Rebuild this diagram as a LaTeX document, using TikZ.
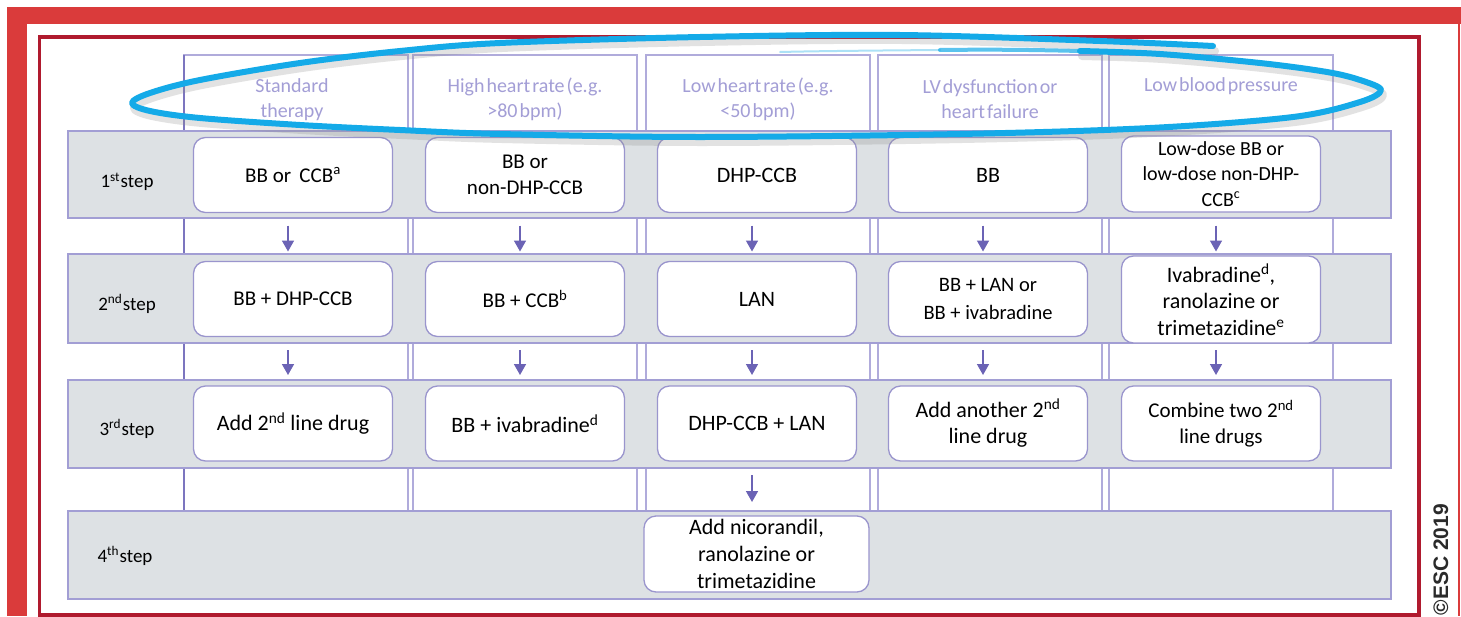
\documentclass[tikz,border=0pt]{standalone}
\usepackage{fontspec}
\setmainfont{Carlito}
\newfontfamily\headfont{Carlito}[WordSpace=0.45]
\newfontfamily\escfont{Liberation Sans}
\usetikzlibrary{arrows.meta,calc}

\definecolor{framered}{HTML}{DA3B3B}
\definecolor{crimson}{HTML}{B01A2E}
\definecolor{bandfill}{HTML}{DDE1E4}
\definecolor{bandline}{HTML}{A29ED4}
\definecolor{boxline}{HTML}{9A95CD}
\definecolor{colline}{HTML}{B0ABDB}
\definecolor{coldark}{HTML}{7C75BF}
\definecolor{headtext}{HTML}{A39ED6}
\definecolor{arrowcol}{HTML}{6B63B5}
\definecolor{marker}{HTML}{14AAE8}
\definecolor{esctext}{HTML}{2A2A2A}

\begin{document}
\begin{tikzpicture}[x=1pt,y=-1pt,
  every node/.style={inner sep=0pt, outer sep=0pt},
  colbox/.style={draw=colline, line width=1.2pt, minimum width=224pt, minimum height=456pt},
  band/.style={draw=bandline, fill=bandfill, line width=1.3pt, minimum width=1323pt},
  drug/.style={draw=boxline, fill=white, line width=1.3pt, rounded corners=12pt,
    minimum width=199pt, minimum height=75pt, align=center,
    font=\fontsize{21}{26}\selectfont},
  drugwide/.style={drug, font=\fontsize{22}{26.5}\selectfont},
  steplabel/.style={font=\fontsize{19}{23}\selectfont},
  head/.style={text=headtext, align=center, font=\headfont\fontsize{20}{25}\selectfont},
  flow/.style={draw=arrowcol, line width=1.6pt, -{Triangle[width=12pt,length=11pt]}},
  pen/.style={draw=marker, line width=6pt, line cap=round, line join=round},
  penshadow/.style={draw=black!45, opacity=0.25, line width=8pt, line cap=round, line join=round},
]

\useasboundingbox (0,0) rectangle (1461,616);
\fill[white] (0,0) rectangle (1461,616);

% outer red frame and inner crimson frame
\fill[framered] (7,7) rectangle (1461,24);
\fill[framered] (7,7) rectangle (27,616);
\draw[framered, line width=1.5pt] (1459,24) -- (1459,616);
\draw[crimson, line width=3.5pt] (39.5,37) rectangle (1419,615);

% patient-profile columns
\node[colbox] (col1) at (296,283) {};
\draw[coldark, line width=1.2pt] (col1.north west) -- (col1.south west);
\node[colbox] (col2) at (525,283) {};
\node[colbox] (col3) at (758,283) {};
\node[colbox] (col4) at (990,283) {};
\node[colbox] (col5) at (1221,283) {};

% step bands
\node[band, minimum height=87pt] (r1) at (729.5,174.5) {};
\node[band, minimum height=89pt] (r2) at (729.5,298.5) {};
\node[band, minimum height=88pt] (r3) at (729.5,424) {};
\node[band, minimum height=88pt] (r4) at (729.5,555) {};

% column headings
\node[head] (h1) at (292,99.5) {Standard\\therapy};
\node[head] (h2) at (525,99.5) {High heart rate (e.g.\\>80 bpm)};
\node[head] (h3) at (758,99.5) {Low heart rate (e.g.\\<50 bpm)};
\node[head] (h4) at (990,99.5) {LV dysfunction or\\heart failure};
\node[head] (h5) at (1221,86) {Low blood pressure};

% step labels
\node[steplabel] (s1) at (127,182) {1\textsuperscript{st}\kern0.5pt step};
\node[steplabel] (s2) at (127,304) {2\textsuperscript{nd}\kern0.5pt step};
\node[steplabel] (s3) at (127,429) {3\textsuperscript{rd}\kern0.5pt step};
\node[steplabel] (s4) at (125,556) {4\textsuperscript{th}\kern0.5pt step};

% 1st step
\node[drug] (b11) at (293,175) {BB or\, CCB\textsuperscript{a}};
\node[drug] (b12) at (525,175) {BB or\\non-DHP-CCB};
\node[drugwide] (b13) at (757,175) {DHP-CCB};
\node[drugwide] (b14) at (988,175) {BB};
\node[drug, minimum height=76pt, font=\fontsize{20}{25.5}\selectfont] (b15) at (1221,174)
  {Low-dose BB or\\low-dose non-DHP-\\CCB\textsuperscript{c}};

% 2nd step
\node[drug] (b21) at (293,299) {BB + DHP-CCB};
\node[drug] (b22) at (525,299) {BB + CCB\textsuperscript{b}};
\node[drugwide] (b23) at (757,299) {LAN};
\node[drug, font=\fontsize{20.5}{28}\selectfont] (b24) at (988,299) {BB + LAN or\\BB + ivabradine};
\node[drugwide, minimum height=87pt] (b25) at (1221,299.5)
  {Ivabradine\textsuperscript{d},\\ranolazine or\\trimetazidine\textsuperscript{e}};

% 3rd step
\node[drugwide] (b31) at (293,423.5) {Add 2\textsuperscript{nd} line drug};
\node[drugwide] (b32) at (525,423.5) {BB + ivabradine\textsuperscript{d}};
\node[drugwide] (b33) at (757,423.5) {DHP-CCB + LAN};
\node[drugwide] (b34) at (988,423.5) {Add another 2\textsuperscript{nd}\\line drug};
\node[drug] (b35) at (1221,423.5) {Combine two 2\textsuperscript{nd}\\line drugs};

% 4th step
\node[drugwide, minimum width=225pt, minimum height=76pt, font=\fontsize{22}{27}\selectfont] (b43) at (756.5,554)
  {Add nicorandil,\\ranolazine or\\trimetazidine};

% step-to-step arrows
\foreach \c in {1,...,5}{
  \draw[flow] ([xshift=-5pt]b1\c.south |- r1.south) ++(0,7.5) -- ++(0,26);
  \draw[flow] ([xshift=-5pt]b2\c.south |- r2.south) ++(0,7) -- ++(0,25);
}
\draw[flow] ([xshift=-5pt]b33.south |- r3.south) ++(0,7) -- ++(0,27);

% hand-drawn highlight around the headings
\begin{scope}[shift={(2,5)}]
\draw[penshadow] plot[smooth, tension=0.55] coordinates {
  (1213,46) (1100,41) (900,35) (700,37) (500,43) (400,51) (300,63) (200,80) (150,93)
  (132,103) (150,111) (200,118) (300,125) (400,130) (500,134) (700,137) (960,134)
  (1150,128) (1293,117) (1360,102) (1381,90) (1360,80) (1327,72) (1260,63) (1160,54) (1080,51)};
\end{scope}
\draw[pen] plot[smooth, tension=0.55] coordinates {
  (1213,46) (1100,41) (900,35) (700,37) (500,43) (400,51) (300,63) (200,80) (150,93)
  (132,103) (150,111) (200,118) (300,125) (400,130) (500,134) (700,137) (960,134)
  (1150,128) (1293,117) (1360,102) (1381,90) (1360,80) (1327,72) (1260,63) (1160,54) (1080,51)};
\draw[pen, line width=4pt, opacity=0.7] (1080,51) .. controls (1020,49.5) and (980,49.5) .. (940,50);
\draw[pen, line width=2pt, opacity=0.35] (940,50) .. controls (880,50.5) and (820,51) .. (780,52);

% copyright
\node[rotate=90, anchor=base east, text=esctext,
  font=\escfont\bfseries\fontsize{21}{21}\selectfont] (esc) at (1448,504) {©ESC 2019};

\end{tikzpicture}
\end{document}
